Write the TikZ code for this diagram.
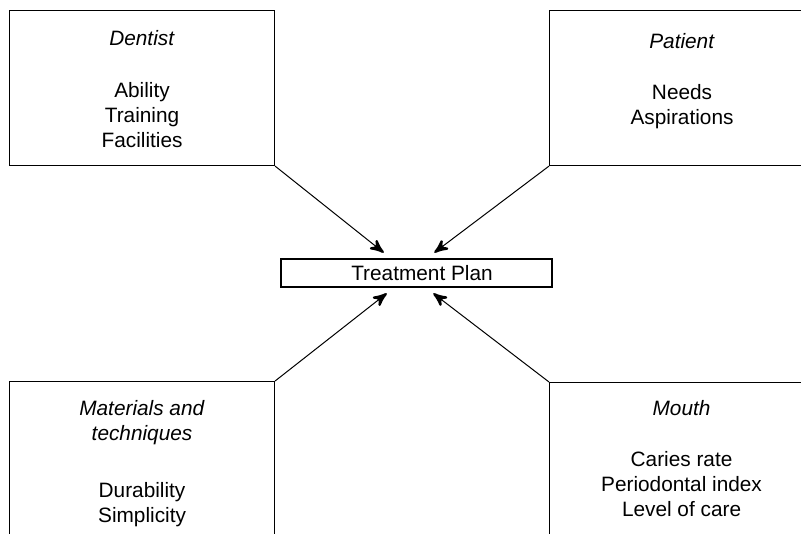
\documentclass[tikz,border=0pt]{standalone}
\usepackage{fontspec}
\setmainfont{Liberation Sans}
\usetikzlibrary{arrows}
\usetikzlibrary{decorations.markings}
\usetikzlibrary{positioning}
\tikzset{->/.style = {decoration={markings,
                                  mark=at position 1 with {\arrow[scale=2.4]{stealth'}}},
                      postaction={decorate}}}
\tikzset{panel/.style = {draw, line width=1.1pt, anchor=north west, inner sep=0,
                         minimum width=265pt, minimum height=155pt}}
\tikzset{paneltext/.style = {align=center, inner sep=0, font=\fontsize{20.8}{25}\selectfont}}

\begin{document}
\begin{tikzpicture}[x=1pt, y=-1pt, line width=1pt]
      \useasboundingbox (0, 0) rectangle (801, 534);
      \clip (0, 0) rectangle (801, 534);
      \node [panel] (dentist) at (9, 10) {};
      \node [panel] (patient) at (549, 10) {};
      \node [panel, minimum height=180pt] (materials) at (9, 381) {};
      \node [panel, minimum width=264pt, minimum height=180pt] (mouth) at (549, 382) {};
      \node [paneltext, below = 20pt of dentist.north] (dentist text)
            {\textit{Dentist}\\[27pt]Ability\\Training\\Facilities};
      \node [paneltext, below = 23pt of patient.north] (patient text)
            {\textit{Patient}\\[26pt]Needs\\Aspirations};
      \node [paneltext, below = 19pt of materials.north] (materials text)
            {\textit{Materials and}\\\textit{techniques}\\[32pt]Durability\\Simplicity};
      \node [paneltext, below = 18pt of mouth.north] (mouth text)
            {\textit{Mouth}\\[26pt]Caries rate\\Periodontal index\\Level of care};
      \node [draw, line width=1.1pt, minimum width=271pt, minimum height=28pt, inner sep=0,
             font=\fontsize{20.8}{25}\selectfont] (plan) at (416.5, 273) {\hspace*{11pt}Treatment Plan};
      \coordinate (in dentist) at ([xshift=-33pt, yshift=6pt] plan.north);
      \coordinate (in patient) at ([xshift=18pt, yshift=6pt] plan.north);
      \coordinate (in materials) at ([xshift=-30pt, yshift=-6pt] plan.south);
      \coordinate (in mouth) at ([xshift=17pt, yshift=-6pt] plan.south);
      \draw [->] (dentist.south east) -- (in dentist);
      \draw [->] (patient.south west) -- (in patient);
      \draw [->] (materials.north east) -- (in materials);
      \draw [->] (mouth.north west) -- (in mouth);
\end{tikzpicture}
\end{document}
